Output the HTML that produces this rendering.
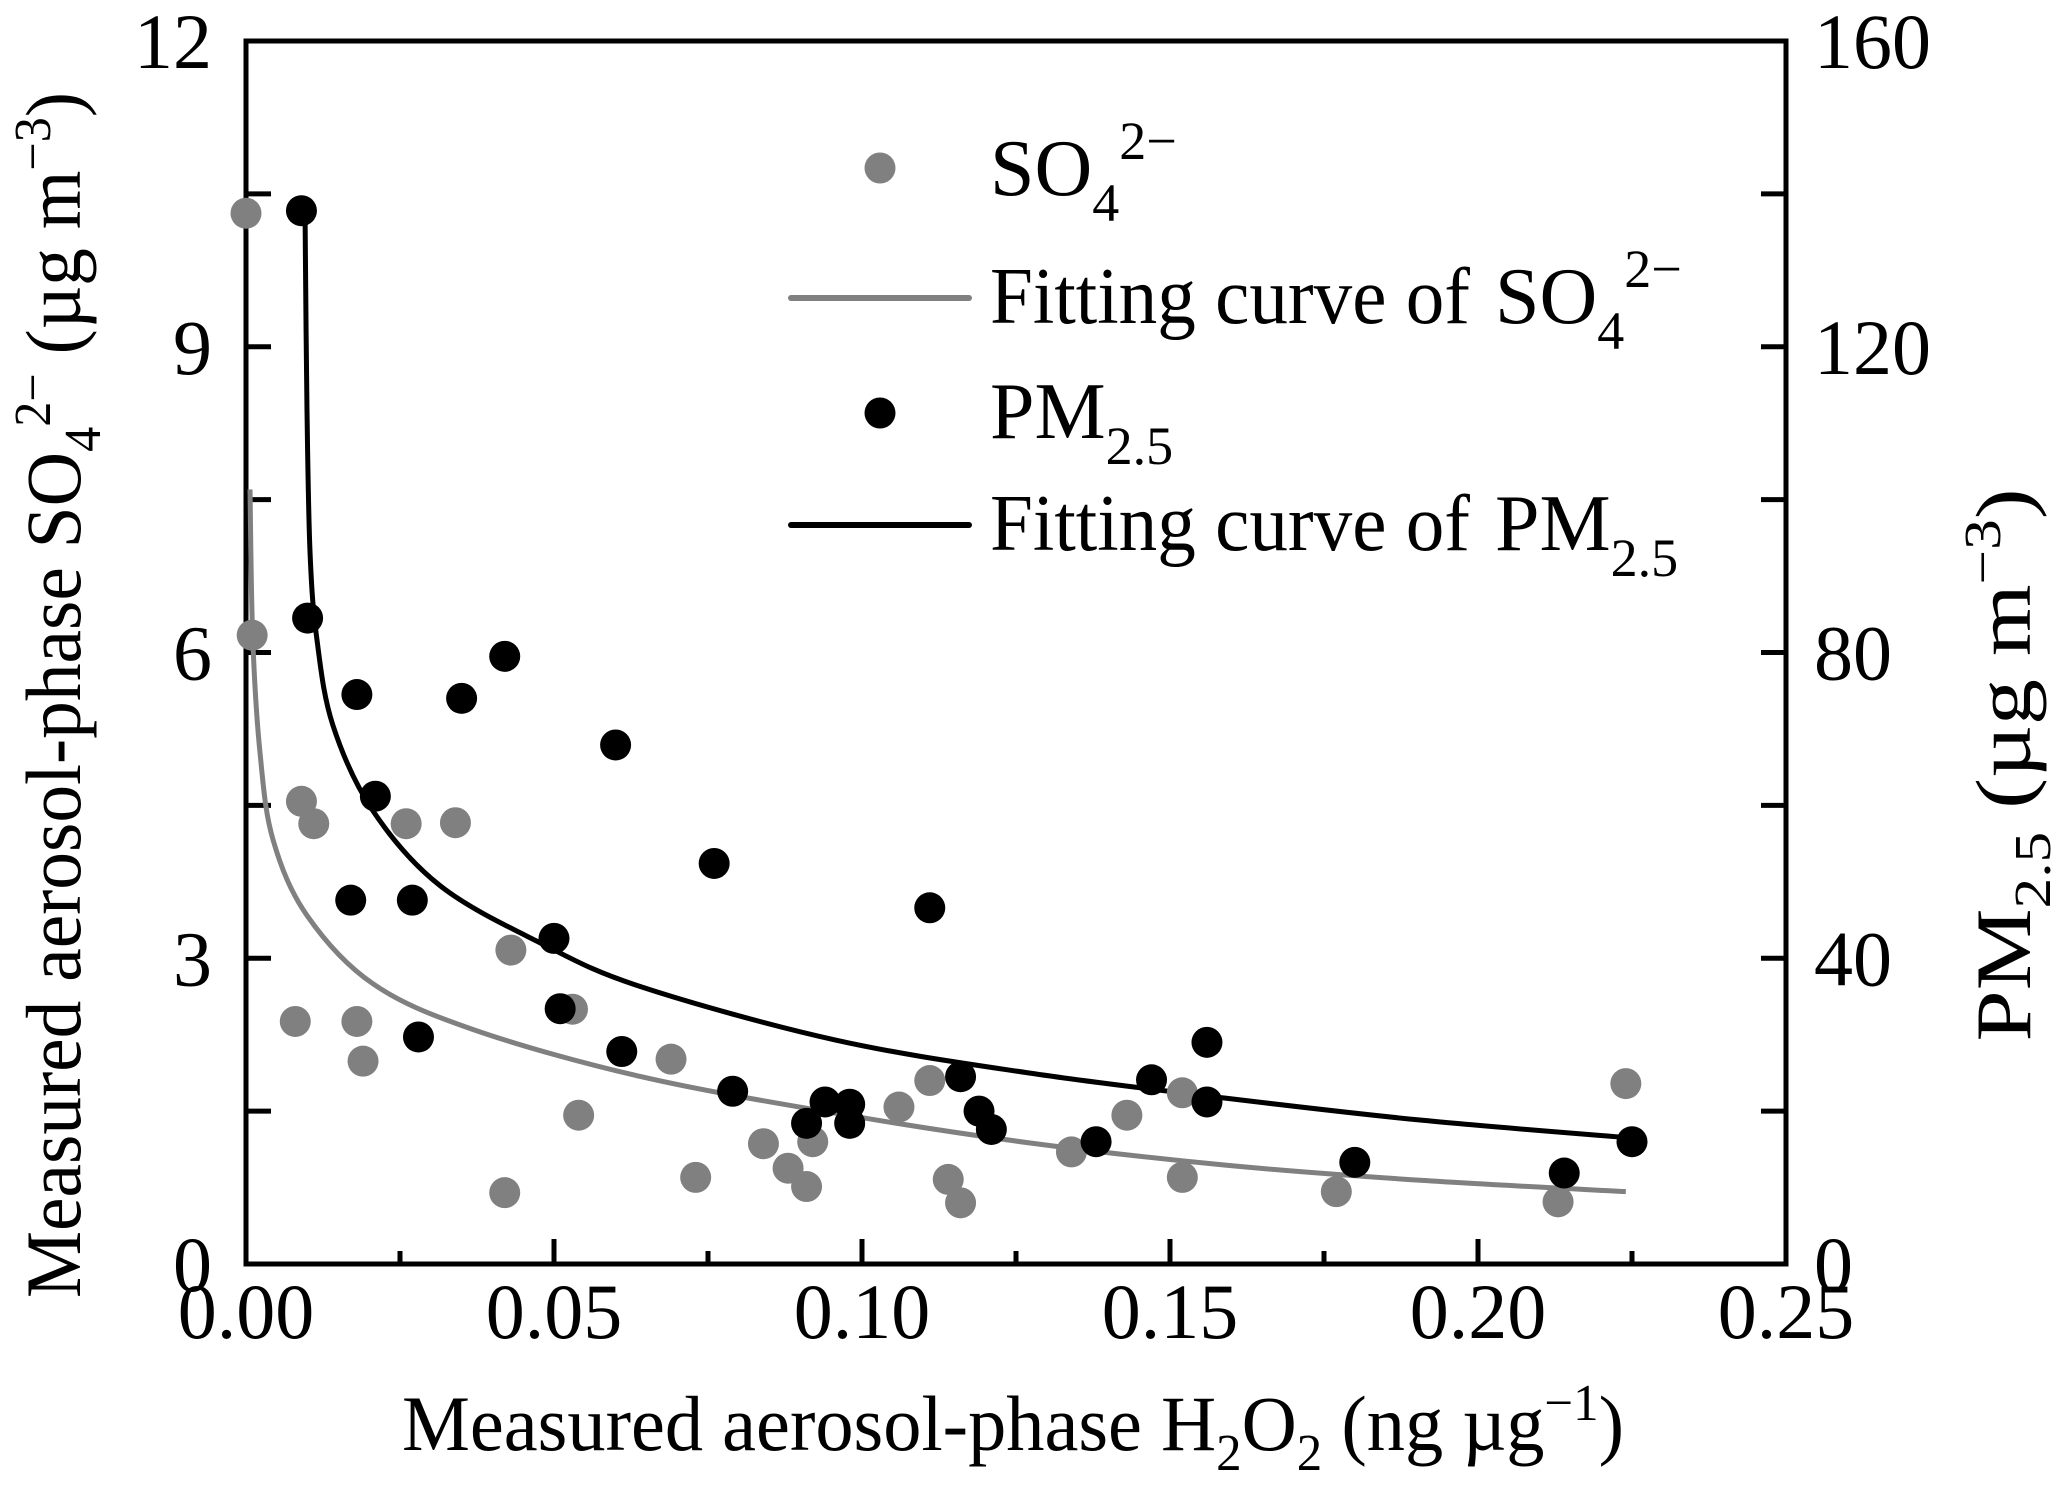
<!DOCTYPE html>
<html><head><meta charset="utf-8"><style>
html,body{margin:0;padding:0;background:#fff;}
svg{display:block;font-family:"Liberation Serif",serif;}
</style></head><body>
<svg id="chart" width="2067" height="1507" viewBox="0 0 2067 1507">
<g id="axes"></g>
<g id="curves"></g>
<g id="points"></g>
<g id="legend">
  <circle cx="880" cy="168" r="15.5" fill="#808080"/>
  <text x="990" y="195" font-size="80">SO<tspan font-size="54" dy="26">4</tspan><tspan font-size="54" dy="-62">2−</tspan></text>
  <line x1="791" y1="298" x2="969" y2="298" stroke="#808080" stroke-width="6" stroke-linecap="round"/>
  <text x="990" y="323" font-size="80" textLength="480" lengthAdjust="spacingAndGlyphs">Fitting curve of</text>
  <text x="1495" y="323" font-size="80">SO<tspan font-size="54" dy="26">4</tspan><tspan font-size="54" dy="-62">2−</tspan></text>
  <circle cx="880" cy="413" r="15.5" fill="#000"/>
  <text x="990" y="438" font-size="80">PM<tspan font-size="54" dy="26">2.5</tspan></text>
  <line x1="791" y1="525" x2="969" y2="525" stroke="#000" stroke-width="6" stroke-linecap="round"/>
  <text x="990" y="550" font-size="80" textLength="480" lengthAdjust="spacingAndGlyphs">Fitting curve of</text>
  <text x="1495" y="550" font-size="80">PM<tspan font-size="54" dy="26">2.5</tspan></text>
</g>
<text x="1013" y="1450" font-size="78" text-anchor="middle" textLength="1222" lengthAdjust="spacingAndGlyphs">Measured aerosol-phase H<tspan font-size="52" dy="20">2</tspan><tspan dy="-20">O</tspan><tspan font-size="52" dy="20">2</tspan><tspan dy="-20"> (ng µg</tspan><tspan font-size="52" dy="-30">−1</tspan><tspan dy="30">)</tspan></text>
<text transform="translate(80,695) rotate(-90)" font-size="78" text-anchor="middle" textLength="1206" lengthAdjust="spacingAndGlyphs">Measured aerosol-phase SO<tspan font-size="52" dy="20">4</tspan><tspan font-size="52" dy="-50">2−</tspan><tspan dy="30"> (µg m</tspan><tspan font-size="52" dy="-30">−3</tspan><tspan dy="30">)</tspan></text>
<text transform="translate(2030,765) rotate(-90)" font-size="78" text-anchor="middle" textLength="553" lengthAdjust="spacingAndGlyphs">PM<tspan font-size="52" dy="20">2.5</tspan><tspan dy="-20"> (µg m</tspan><tspan font-size="52" dy="-30">−3</tspan><tspan dy="30">)</tspan></text>
</svg>
<script>
const xTicks = [0, 0.05, 0.10, 0.15, 0.20, 0.25];
const xTickLabels = ["0.00","0.05","0.10","0.15","0.20","0.25"];
const yLeftTicks = [0, 3, 6, 9, 12];
const yRightTicks = [0, 40, 80, 120, 160];
const so4X = [0.000,0.001,0.009,0.011,0.026,0.034,0.043,0.008,0.018,0.019,0.053,0.054,0.042,0.069,0.073,0.084,0.088,0.091,0.092,0.106,0.111,0.114,0.116,0.134,0.143,0.152,0.152,0.177,0.213,0.224];
const so4Y = [10.31,6.17,4.54,4.32,4.32,4.33,3.08,2.38,2.38,1.99,2.50,1.46,0.70,2.01,0.85,1.18,0.94,0.76,1.20,1.54,1.80,0.83,0.60,1.10,1.46,1.68,0.85,0.71,0.61,1.77];
const pmX = [0.009,0.010,0.018,0.021,0.035,0.042,0.017,0.027,0.028,0.050,0.051,0.060,0.061,0.076,0.079,0.091,0.094,0.098,0.098,0.111,0.116,0.119,0.121,0.138,0.147,0.156,0.156,0.180,0.214,0.225];
const pmY = [137.8,84.5,74.5,61.2,74.0,79.5,47.6,47.6,29.7,42.6,33.4,67.9,27.8,52.4,22.6,18.4,21.2,20.9,18.4,46.6,24.5,20.0,17.6,16.0,24.1,29.0,21.2,13.3,11.9,16.0];
const so4FitX = [0.00065,0.0011,0.0023,0.0044,0.0099,0.0206,0.0369,0.064,0.0957,0.127,0.159,0.191,0.224];
const so4FitY = [7.6,6.13,5.0,4.16,3.42,2.75,2.30,1.84,1.48,1.19,0.97,0.82,0.71];
const pmFitX = [0.0096,0.0099,0.0104,0.0115,0.0141,0.0206,0.0315,0.0478,0.064,0.0957,0.127,0.159,0.191,0.2247];
const pmFitY = [136,111.8,93,81.8,70.5,59.3,49.5,42.0,36.3,29.3,25.0,21.7,18.8,16.5];

const L=246,R=1786,T=41,B=1264;
const xs=v=>L+(R-L)*v/0.25;
const yl=v=>B-(B-T)*v/12;
const yr=v=>B-(B-T)*v/160;
const NS="http://www.w3.org/2000/svg";
function mk(tag,attrs,parent){const e=document.createElementNS(NS,tag);for(const k in attrs)e.setAttribute(k,attrs[k]);parent.appendChild(e);return e;}
const axes=document.getElementById('axes');
let frame=mk('rect',{x:L,y:T,width:R-L,height:B-T,fill:'none',stroke:'#000','stroke-width':5},axes);


for(let i=0;i<=10;i++){
  const v=i*0.025, major=i%2===0, len=major?25:13, x=xs(v);
  const t=mk('line',{x1:x,x2:x,y1:B,y2:B-len,stroke:'#000','stroke-width':5},axes);
  
  
}
xTicks.forEach((v,i)=>{
  const t=mk('text',{x:xs(v),y:1338,'font-size':78,'text-anchor':'middle'},axes);
  t.textContent=xTickLabels[i];
  
  
});
for(let i=0;i<=8;i++){
  const y=yl(i*1.5);
  const t=mk('line',{x1:L,x2:L+25,y1:y,y2:y,stroke:'#000','stroke-width':5},axes);
  
  
  const yy=yr(i*20);
  const t2=mk('line',{x1:R,x2:R-25,y1:yy,y2:yy,stroke:'#000','stroke-width':5},axes);
  
  
}
yLeftTicks.forEach(v=>{
  const t=mk('text',{x:212,y:yl(v)+27,'font-size':78,'text-anchor':'end'},axes);
  t.textContent=String(v);
  
  
});
yRightTicks.forEach(v=>{
  const t=mk('text',{x:1814,y:yr(v)+27,'font-size':78,'text-anchor':'start'},axes);
  t.textContent=String(v);
  
  
});
function smoothPath(px,py){
  let d=`M${px[0]},${py[0]}`;
  for(let i=0;i<px.length-1;i++){
    const p0=[px[Math.max(i-1,0)],py[Math.max(i-1,0)]],p1=[px[i],py[i]],p2=[px[i+1],py[i+1]],p3=[px[Math.min(i+2,px.length-1)],py[Math.min(i+2,px.length-1)]];
    const c1=[p1[0]+(p2[0]-p0[0])/6,p1[1]+(p2[1]-p0[1])/6],c2=[p2[0]-(p3[0]-p1[0])/6,p2[1]-(p3[1]-p1[1])/6];
    d+=` C${c1[0]},${c1[1]} ${c2[0]},${c2[1]} ${p2[0]},${p2[1]}`;
  }
  return d;
}
const curves=document.getElementById('curves');
let c1=mk('path',{d:smoothPath(so4FitX.map(xs),so4FitY.map(yl)),fill:'none',stroke:'#808080','stroke-width':5},curves);


let c2=mk('path',{d:smoothPath(pmFitX.map(xs),pmFitY.map(yr)),fill:'none',stroke:'#000','stroke-width':5},curves);


const pts=document.getElementById('points');
so4X.forEach((x,i)=>{
  const c=mk('circle',{cx:xs(x),cy:yl(so4Y[i]),r:15.5,fill:'#808080'},pts);
  
  
});
pmX.forEach((x,i)=>{
  const c=mk('circle',{cx:xs(x),cy:yr(pmY[i]),r:15.5,fill:'#000'},pts);
  
  
});
</script>
</body></html>
